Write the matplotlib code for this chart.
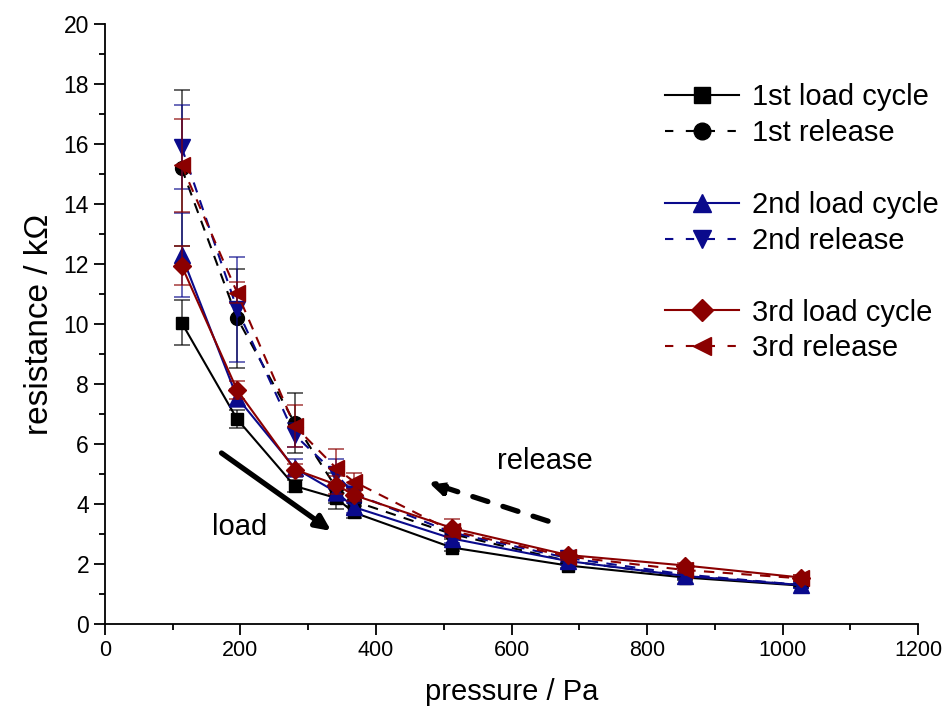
import numpy as np
import matplotlib.pyplot as plt
from matplotlib.lines import Line2D
from matplotlib.ticker import MultipleLocator

plt.rcParams['font.family'] = ['Liberation Sans', 'DejaVu Sans']

# 압력 (Pa)
pressure = [113, 195, 280, 341, 367, 512, 683, 856, 1027]

# 저항 (kOhm) 과 오차
load1 = [10.05, 6.83, 4.6, 4.2, 3.72, 2.55, 1.95, 1.55, 1.28]
load1_err = [0.75, 0.3, 0.2, 0.35, 0.2, 0.1, 0.08, 0.08, 0.05]
rel1 = [15.2, 10.2, 6.7, 4.55, 4.1, 3.0, 2.1, 1.6, 1.3]
rel1_err = [2.6, 1.65, 1.0, 0.5, 0.45, 0.15, 0.1, 0.08, 0.05]
load2 = [12.3, 7.55, 5.2, 4.4, 3.9, 2.85, 2.1, 1.6, 1.3]
load2_err = [1.4, 0.3, 0.3, 0.3, 0.2, 0.15, 0.12, 0.1, 0.1]
rel2 = [15.9, 10.5, 6.3, 5.0, 4.35, 3.05, 2.2, 1.65, 1.3]
rel2_err = [1.4, 1.75, 0.4, 0.5, 0.3, 0.15, 0.12, 0.1, 0.1]
load3 = [11.95, 7.8, 5.15, 4.65, 4.3, 3.2, 2.3, 1.95, 1.55]
load3_err = [0.65, 0.3, 0.2, 0.3, 0.2, 0.3, 0.1, 0.1, 0.1]
rel3 = [15.3, 11.05, 6.6, 5.2, 4.75, 3.1, 2.25, 1.8, 1.52]
rel3_err = [1.55, 0.35, 0.7, 0.65, 0.3, 0.15, 0.12, 0.1, 0.1]

labels = ["1st load cycle", "1st release", "2nd load cycle", "2nd release",
          "3rd load cycle", "3rd release"]

black = "black"
blue = "#0a0a8c"
red = "#8b0000"

series = [
    (load1, load1_err, black, "s", "-"),
    (rel1, rel1_err, black, "o", "--"),
    (load2, load2_err, blue, "^", "-"),
    (rel2, rel2_err, blue, "v", "--"),
    (load3, load3_err, red, "D", "-"),
    (rel3, rel3_err, red, "<", "--"),
]
msizes = {"s": 9, "o": 10, "D": 9, "^": 11, "v": 11, "<": 11}

fig = plt.figure(figsize=(9.44, 7.17), dpi=100)
ax = fig.add_axes([0.1112, 0.1297, 0.8613, 0.8368])

handles = []
for (y, err, c, m, ls), lbl in zip(series, labels):
    ms = msizes[m]
    ax.errorbar(pressure, y, yerr=err, fmt="none", ecolor=c, elinewidth=1.2,
                capsize=6, capthick=1.2, alpha=0.7)
    ax.plot(pressure, y, color=c, linestyle=ls, linewidth=1.5, marker=m,
            markersize=ms, dashes=(5, 4) if ls == "--" else (None, None))
    h = Line2D([], [], color=c, linestyle=ls, linewidth=1.5, marker=m,
               markersize=ms + 2)
    if ls == "--":
        h.set_dashes((4, 6))
    handles.append(h)

blank = Line2D([], [], linestyle="none")
leg_handles = handles[:2] + [blank] + handles[2:4] + [blank] + handles[4:]
leg_labels = labels[:2] + [" "] + labels[2:4] + [" "] + labels[4:]
fig.legend(leg_handles, leg_labels, loc="upper left", bbox_to_anchor=(0.692, 0.9),
           frameon=False, fontsize=21, handlelength=2.55, handletextpad=0.42,
           labelspacing=0.27, borderaxespad=0)

# 화살표
ax.annotate("", xy=(334, 3.1), xytext=(172, 5.7),
            arrowprops=dict(arrowstyle="-|>,head_length=0.9,head_width=0.42",
                            color="black", lw=3.8, shrinkA=0, shrinkB=0))
ax.annotate("", xy=(477, 4.73), xytext=(654, 3.43),
            arrowprops=dict(arrowstyle="-|>,head_length=0.9,head_width=0.42",
                            color="black", lw=3.8, linestyle=(0, (3, 3)),
                            shrinkA=0, shrinkB=0))
ax.text(199, 3.25, "load", fontsize=21, ha="center", va="center")
ax.text(649, 5.45, "release", fontsize=21, ha="center", va="center")

ax.set_xlim(0, 1200)
ax.set_ylim(0, 20)
ax.xaxis.set_major_locator(MultipleLocator(200))
ax.xaxis.set_minor_locator(MultipleLocator(100))
ax.yaxis.set_major_locator(MultipleLocator(2))
ax.yaxis.set_minor_locator(MultipleLocator(1))
ax.tick_params(which="both", direction="out", width=1.3)
ax.tick_params(axis="x", labelsize=15.5)
ax.tick_params(axis="y", labelsize=16.5)
ax.tick_params(which="major", length=8)
ax.tick_params(which="minor", length=4)
for s in ("top", "right"):
    ax.spines[s].set_visible(False)
for s in ("left", "bottom"):
    ax.spines[s].set_linewidth(1.3)

ax.set_xlabel("pressure / Pa", fontsize=21, labelpad=12)
ax.set_ylabel("resistance / kΩ", fontsize=24, labelpad=6)

fig.savefig("out.png", dpi=100)
